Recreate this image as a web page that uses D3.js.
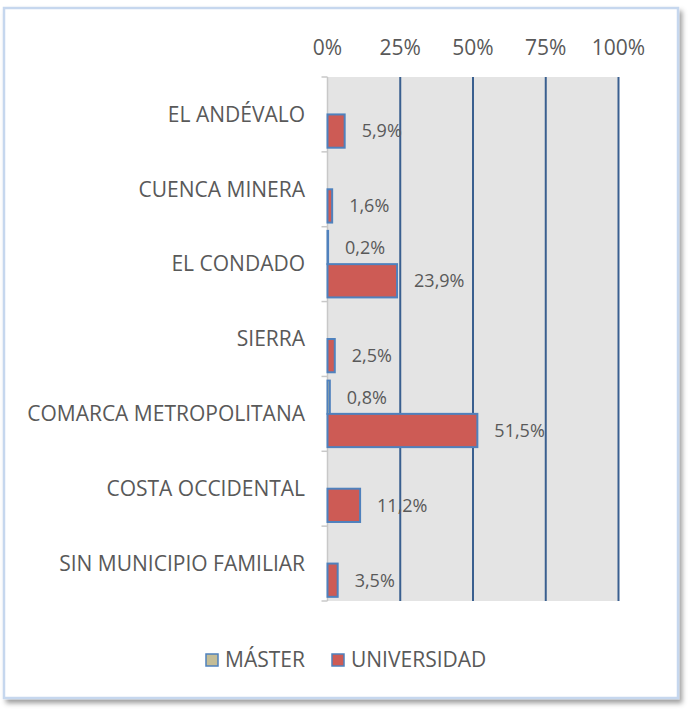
<!DOCTYPE html>
<html><head><meta charset="utf-8">
<script src="https://cdn.jsdelivr.net/npm/d3@7"></script>
<style>body{margin:0;background:#fff}svg{display:block}</style>
</head><body>
<svg id="c" width="689" height="711"></svg>
<script>
const categories = ["EL ANDÉVALO","CUENCA MINERA","EL CONDADO","SIERRA","COMARCA METROPOLITANA","COSTA OCCIDENTAL","SIN MUNICIPIO FAMILIAR"];
const seriesNames = ["MÁSTER","UNIVERSIDAD"];
const master = [null, null, 0.2, null, 0.8, null, null];
const universidad = [5.9, 1.6, 23.9, 2.5, 51.5, 11.2, 3.5];
const tickValues = [0,25,50,75,100];
const colors = ["#C4BD97","#CD5B55"];

const svg = d3.select("#c");
const font = "'Open Sans', sans-serif";
const txt = "#595959";

// frame with shadow
const defs = svg.append("defs");
const f = defs.append("filter").attr("id","sh").attr("x","-5%").attr("y","-5%").attr("width","115%").attr("height","115%");
f.append("feDropShadow").attr("dx",3).attr("dy",4).attr("stdDeviation",2.5).attr("flood-color","#000").attr("flood-opacity",0.38);
svg.append("rect").attr("x",4).attr("y",8).attr("width",674).attr("height",690)
  .attr("fill","#fff").attr("stroke","#C6D7EE").attr("stroke-width",2.5).attr("filter","url(#sh)");

const x = d3.scaleLinear().domain([0,100]).range([327.5,618.5]);
const y = d3.scaleBand().domain(categories).range([77,601]);
const ys = d3.scaleBand().domain(seriesNames).range([0,y.bandwidth()]).paddingOuter(0.125);

// plot area
svg.append("rect").attr("x",x(0)).attr("y",77).attr("width",x(100)-x(0)).attr("height",601-77).attr("fill","#E4E4E4");

// gridlines
svg.append("g").selectAll("line").data(tickValues.filter(d=>d>0)).join("line")
  .attr("x1",d=>x(d)).attr("x2",d=>x(d)).attr("y1",77).attr("y2",601)
  .attr("stroke","#3A5F8F").attr("stroke-width",2);

// top axis labels
svg.append("g").selectAll("text").data(tickValues).join("text")
  .attr("x",d=>x(d)).attr("y",48).attr("dy","0.35em").attr("text-anchor","middle")
  .attr("font-family",font).attr("font-size",21).attr("fill",txt).text(d=>d+"%");

// left axis
svg.append("line").attr("x1",x(0)).attr("x2",x(0)).attr("y1",77).attr("y2",601).attr("stroke","#C8C8C8").attr("stroke-width",1.5);
const bounds = categories.map(c=>y(c)).concat([601]);
svg.append("g").selectAll("line").data(bounds).join("line")
  .attr("x1",x(0)-6).attr("x2",x(0)).attr("y1",d=>d).attr("y2",d=>d).attr("stroke","#C8C8C8").attr("stroke-width",1.5);

// category labels
svg.append("g").selectAll("text").data(categories).join("text")
  .attr("x",305).attr("y",d=>y(d)+y.bandwidth()/2).attr("dy","0.35em").attr("text-anchor","end")
  .attr("font-family",font).attr("font-size",21).attr("fill",txt).text(d=>d);

const fmt = v => d3.format(".1f")(v).replace(".",",")+"%";
const series = [master, universidad];
series.forEach((vals,si)=>{
  const data = categories.map((c,i)=>({c, v: vals[i]})).filter(d=>d.v!=null);
  const g = svg.append("g");
  g.selectAll("rect").data(data).join("rect")
    .attr("x",x(0)).attr("y",d=>y(d.c)+ys(seriesNames[si]))
    .attr("width",d=>x(d.v)-x(0)).attr("height",ys.bandwidth())
    .attr("fill",colors[si]).attr("stroke","#4F81BD").attr("stroke-width",2);
  g.selectAll("text").data(data).join("text")
    .attr("x",d=>x(d.v)+17).attr("y",d=>y(d.c)+ys(seriesNames[si])+ys.bandwidth()/2).attr("dy","0.35em")
    .attr("font-family",font).attr("font-size",18).attr("fill",txt).text(d=>fmt(d.v));
});

// legend
const leg = svg.append("g").attr("transform","translate(0,660)");
const legX = [206, 332];
seriesNames.forEach((s,i)=>{
  leg.append("rect").attr("x",legX[i]).attr("y",-6).attr("width",12).attr("height",12)
    .attr("fill",colors[i]).attr("stroke","#4F81BD").attr("stroke-width",1.5);
  leg.append("text").attr("x",legX[i]+19).attr("y",0).attr("dy","0.35em")
    .attr("font-family",font).attr("font-size",21).attr("fill",txt).text(s);
});
</script>
</body></html>
